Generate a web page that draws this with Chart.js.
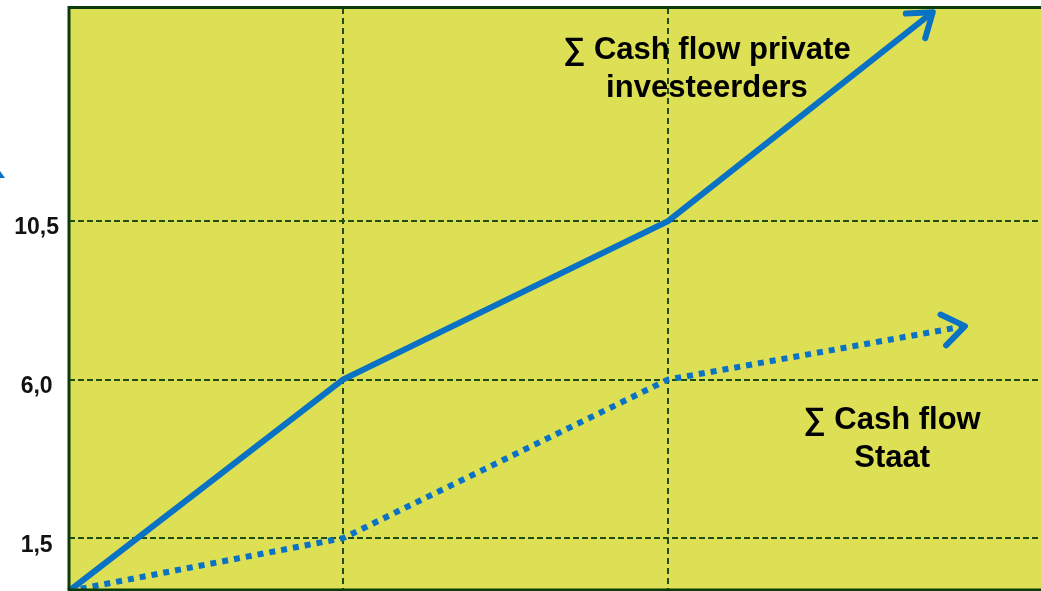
<!DOCTYPE html>
<html lang="nl">
<head>
    <meta charset="UTF-8">
    <title>Cash flow private investeerders vs Staat</title>
    <script src="https://cdn.jsdelivr.net/npm/chart.js"></script>
    <style>
        * { margin: 0; padding: 0; box-sizing: border-box; }
        body { background: #fff; width: 1041px; height: 591px; overflow: hidden; }
        canvas { display: block; }
    </style>
</head>
<body>

<canvas id="cashflow" width="1041" height="591"></canvas>

<script>
    // data
    const xPrivate = [0.157, 1, 2, 2.815];
    const cashPrivate = [0, 6.0, 10.5, 16.43];
    const xState = [0.157, 1, 2, 2.914];
    const cashState = [0, 1.5, 6.0, 7.52];
    const yTicks = [1.5, 6.0, 10.5];
    const xGrid = [1, 2];
    const labelPrivate = ['∑ Cash flow private', 'investeerders'];
    const labelState = ['∑ Cash flow', 'Staat'];

    const blue = '#0a72c4';
    const gridGreen = '#1f4d14';

    const toPoints = (xs, ys) => xs.map((x, i) => ({ x: x, y: ys[i] }));

    // background, frame, arrow heads and the two text labels
    const decor = {
        id: 'decor',
        beforeDraw(chart) {
            const { ctx, chartArea: a } = chart;
            ctx.save();
            ctx.fillStyle = '#dde055';
            ctx.fillRect(a.left, a.top, a.right - a.left, a.bottom - a.top);
            ctx.restore();
        },
        afterDatasetsDraw(chart) {
            const { ctx, chartArea: a, scales } = chart;
            ctx.save();
            // frame
            ctx.strokeStyle = '#0b3a0b';
            ctx.lineWidth = 3;
            ctx.strokeRect(a.left, a.top - 0.5, a.right - a.left + 2, a.bottom - a.top - 0.5);

            // arrow heads on the last segment of each series
            chart.data.datasets.forEach((ds, i) => {
                const pts = chart.getDatasetMeta(i).data;
                const p1 = pts[pts.length - 2], p2 = pts[pts.length - 1];
                const ang = Math.atan2(p2.y - p1.y, p2.x - p1.x);
                const len = 27, spread = 0.62;
                ctx.strokeStyle = blue;
                ctx.lineWidth = 6;
                ctx.lineCap = 'round';
                ctx.lineJoin = 'round';
                ctx.setLineDash([]);
                ctx.beginPath();
                ctx.moveTo(p2.x - len * Math.cos(ang - spread), p2.y - len * Math.sin(ang - spread));
                ctx.lineTo(p2.x, p2.y);
                ctx.lineTo(p2.x - len * Math.cos(ang + spread), p2.y - len * Math.sin(ang + spread));
                ctx.stroke();
            });

            // small cut-off arrow tip at the far left
            ctx.fillStyle = blue;
            ctx.beginPath();
            ctx.moveTo(0, 171);
            ctx.lineTo(5, 178);
            ctx.lineTo(0, 178);
            ctx.closePath();
            ctx.fill();

            // labels
            ctx.fillStyle = '#000';
            ctx.textAlign = 'center';
            ctx.textBaseline = 'alphabetic';
            ctx.font = 'bold 31px "Liberation Sans", Arial, sans-serif';
            const x = scales.x, y = scales.y;
            ctx.fillText(labelPrivate[0], x.getPixelForValue(2.12), y.getPixelForValue(15.1));
            ctx.fillText(labelPrivate[1], x.getPixelForValue(2.12), y.getPixelForValue(14.03));
            ctx.fillText(labelState[0], x.getPixelForValue(2.69), y.getPixelForValue(4.6));
            ctx.fillText(labelState[1], x.getPixelForValue(2.69), y.getPixelForValue(3.52));
            ctx.restore();
        }
    };

    new Chart(document.getElementById('cashflow'), {
        type: 'line',
        data: {
            datasets: [
                {
                    label: 'Cash flow private investeerders',
                    data: toPoints(xPrivate, cashPrivate),
                    borderColor: blue,
                    borderWidth: 6,
                    pointRadius: 0,
                    tension: 0,
                    clip: false
                },
                {
                    label: 'Cash flow Staat',
                    data: toPoints(xState, cashState),
                    borderColor: blue,
                    borderWidth: 6,
                    borderDash: [6, 6],
                    pointRadius: 0,
                    tension: 0,
                    clip: false
                }
            ]
        },
        options: {
            responsive: false,
            animation: false,
            devicePixelRatio: 1,
            layout: { padding: { top: 8, right: 0, bottom: 0, left: 0 } },
            plugins: { legend: { display: false }, tooltip: { enabled: false } },
            scales: {
                x: {
                    type: 'linear',
                    min: 0.157,
                    max: 3.148,
                    border: { display: false, dash: [6, 4] },
                    ticks: { display: false },
                    grid: { color: gridGreen, lineWidth: 2, drawTicks: false },
                    afterBuildTicks: s => { s.ticks = xGrid.map(v => ({ value: v })); },
                    afterFit: s => {
                        s.height = 0;
                        s.paddingLeft = s.paddingRight = s.paddingTop = s.paddingBottom = 0;
                    }
                },
                y: {
                    min: 0,
                    max: 16.55,
                    border: { display: false, dash: [6, 3] },
                    grid: { color: gridGreen, lineWidth: 2, drawTicks: false },
                    ticks: {
                        crossAlign: 'center',
                        padding: 10,
                        labelOffset: 7,
                        color: '#111',
                        font: { family: '"Liberation Sans", Arial, sans-serif', size: 23, weight: 'bold' },
                        callback: v => v.toFixed(1).replace('.', ',')
                    },
                    afterBuildTicks: s => { s.ticks = yTicks.map(v => ({ value: v })); },
                    afterFit: s => {
                        s.width = 69;
                        s.paddingLeft = s.paddingRight = s.paddingTop = s.paddingBottom = 0;
                    }
                }
            }
        },
        plugins: [decor]
    });
</script>
</body>
</html>
